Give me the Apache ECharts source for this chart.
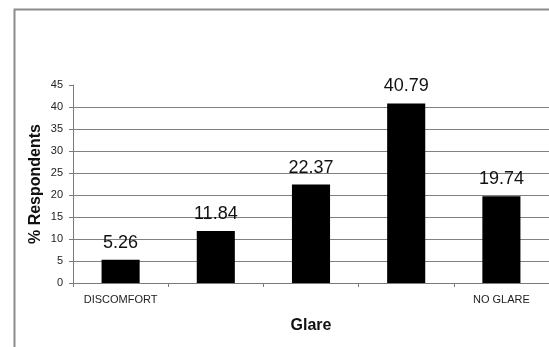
<!DOCTYPE html>
<html>
<head>
<meta charset="utf-8">
<script src="https://cdn.jsdelivr.net/npm/echarts@6/dist/echarts.min.js"></script>
<style>
  html, body { margin: 0; padding: 0; background: #fff; }
  #chart { width: 549px; height: 347px; }
</style>
</head>
<body>
<div id="chart"></div>
<script>
// Glare rating scale: only the two ends carry a label
var categories = ['DISCOMFORT', '', '', '', 'NO GLARE'];
var respondents = [5.26, 11.84, 22.37, 40.79, 19.74];
// Horizontal reference lines (no line at the top of the axis)
var gridValues = [5, 10, 15, 20, 25, 30, 35, 40];

var FONT = '"Liberation Sans", Arial, Helvetica, sans-serif';
var chart = echarts.init(document.getElementById('chart'), null, { renderer: 'canvas' });

chart.setOption({
  backgroundColor: '#ffffff',
  animation: false,
  graphic: [{
    type: 'rect',
    left: 12, top: 7,
    shape: { width: 700, height: 500 },
    style: { fill: 'none', stroke: '#8c8c8c', lineWidth: 2 },
    silent: true,
    z: -10
  }],
  grid: { left: 73, top: 85, width: 479, height: 198 },
  xAxis: {
    type: 'category',
    data: categories,
    boundaryGap: true,
    name: 'Glare',
    nameLocation: 'middle',
    nameGap: 35,
    nameMoveOverlap: false,
    nameTextStyle: { fontFamily: FONT, fontSize: 16, fontWeight: 'bold', color: '#111' },
    axisLine: { lineStyle: { color: '#7a7a7a', width: 1 } },
    axisTick: { show: true, alignWithLabel: false, length: 4, lineStyle: { color: '#7a7a7a' } },
    axisLabel: { interval: 0, margin: 11, fontFamily: FONT, fontSize: 11, color: '#222' },
    splitLine: { show: false }
  },
  yAxis: {
    type: 'value',
    min: 0, max: 45, interval: 5,
    name: '% Respondents',
    nameLocation: 'middle',
    nameGap: 29,
    nameMoveOverlap: false,
    nameTextStyle: { fontFamily: FONT, fontSize: 16, fontWeight: 'bold', color: '#111' },
    axisLine: { show: true, lineStyle: { color: '#7a7a7a', width: 1 } },
    axisTick: { show: true, inside: false, length: 4, lineStyle: { color: '#7a7a7a' } },
    axisLabel: { margin: 10, fontFamily: FONT, fontSize: 11, color: '#222' },
    splitLine: { show: false }
  },
  series: [{
    type: 'bar',
    data: respondents,
    barWidth: '40%',
    itemStyle: { color: '#000000' },
    label: {
      show: true,
      position: 'top',
      distance: 8,
      fontFamily: FONT,
      fontSize: 18,
      color: '#111',
      formatter: function (p) { return p.value.toFixed(2); }
    },
    markLine: {
      silent: true,
      symbol: 'none',
      label: { show: false },
      lineStyle: { color: '#808080', width: 1, type: 'solid' },
      data: gridValues.map(function (v) { return { yAxis: v }; }),
      z: 1
    },
    z: 3
  }]
});
</script>
</body>
</html>
